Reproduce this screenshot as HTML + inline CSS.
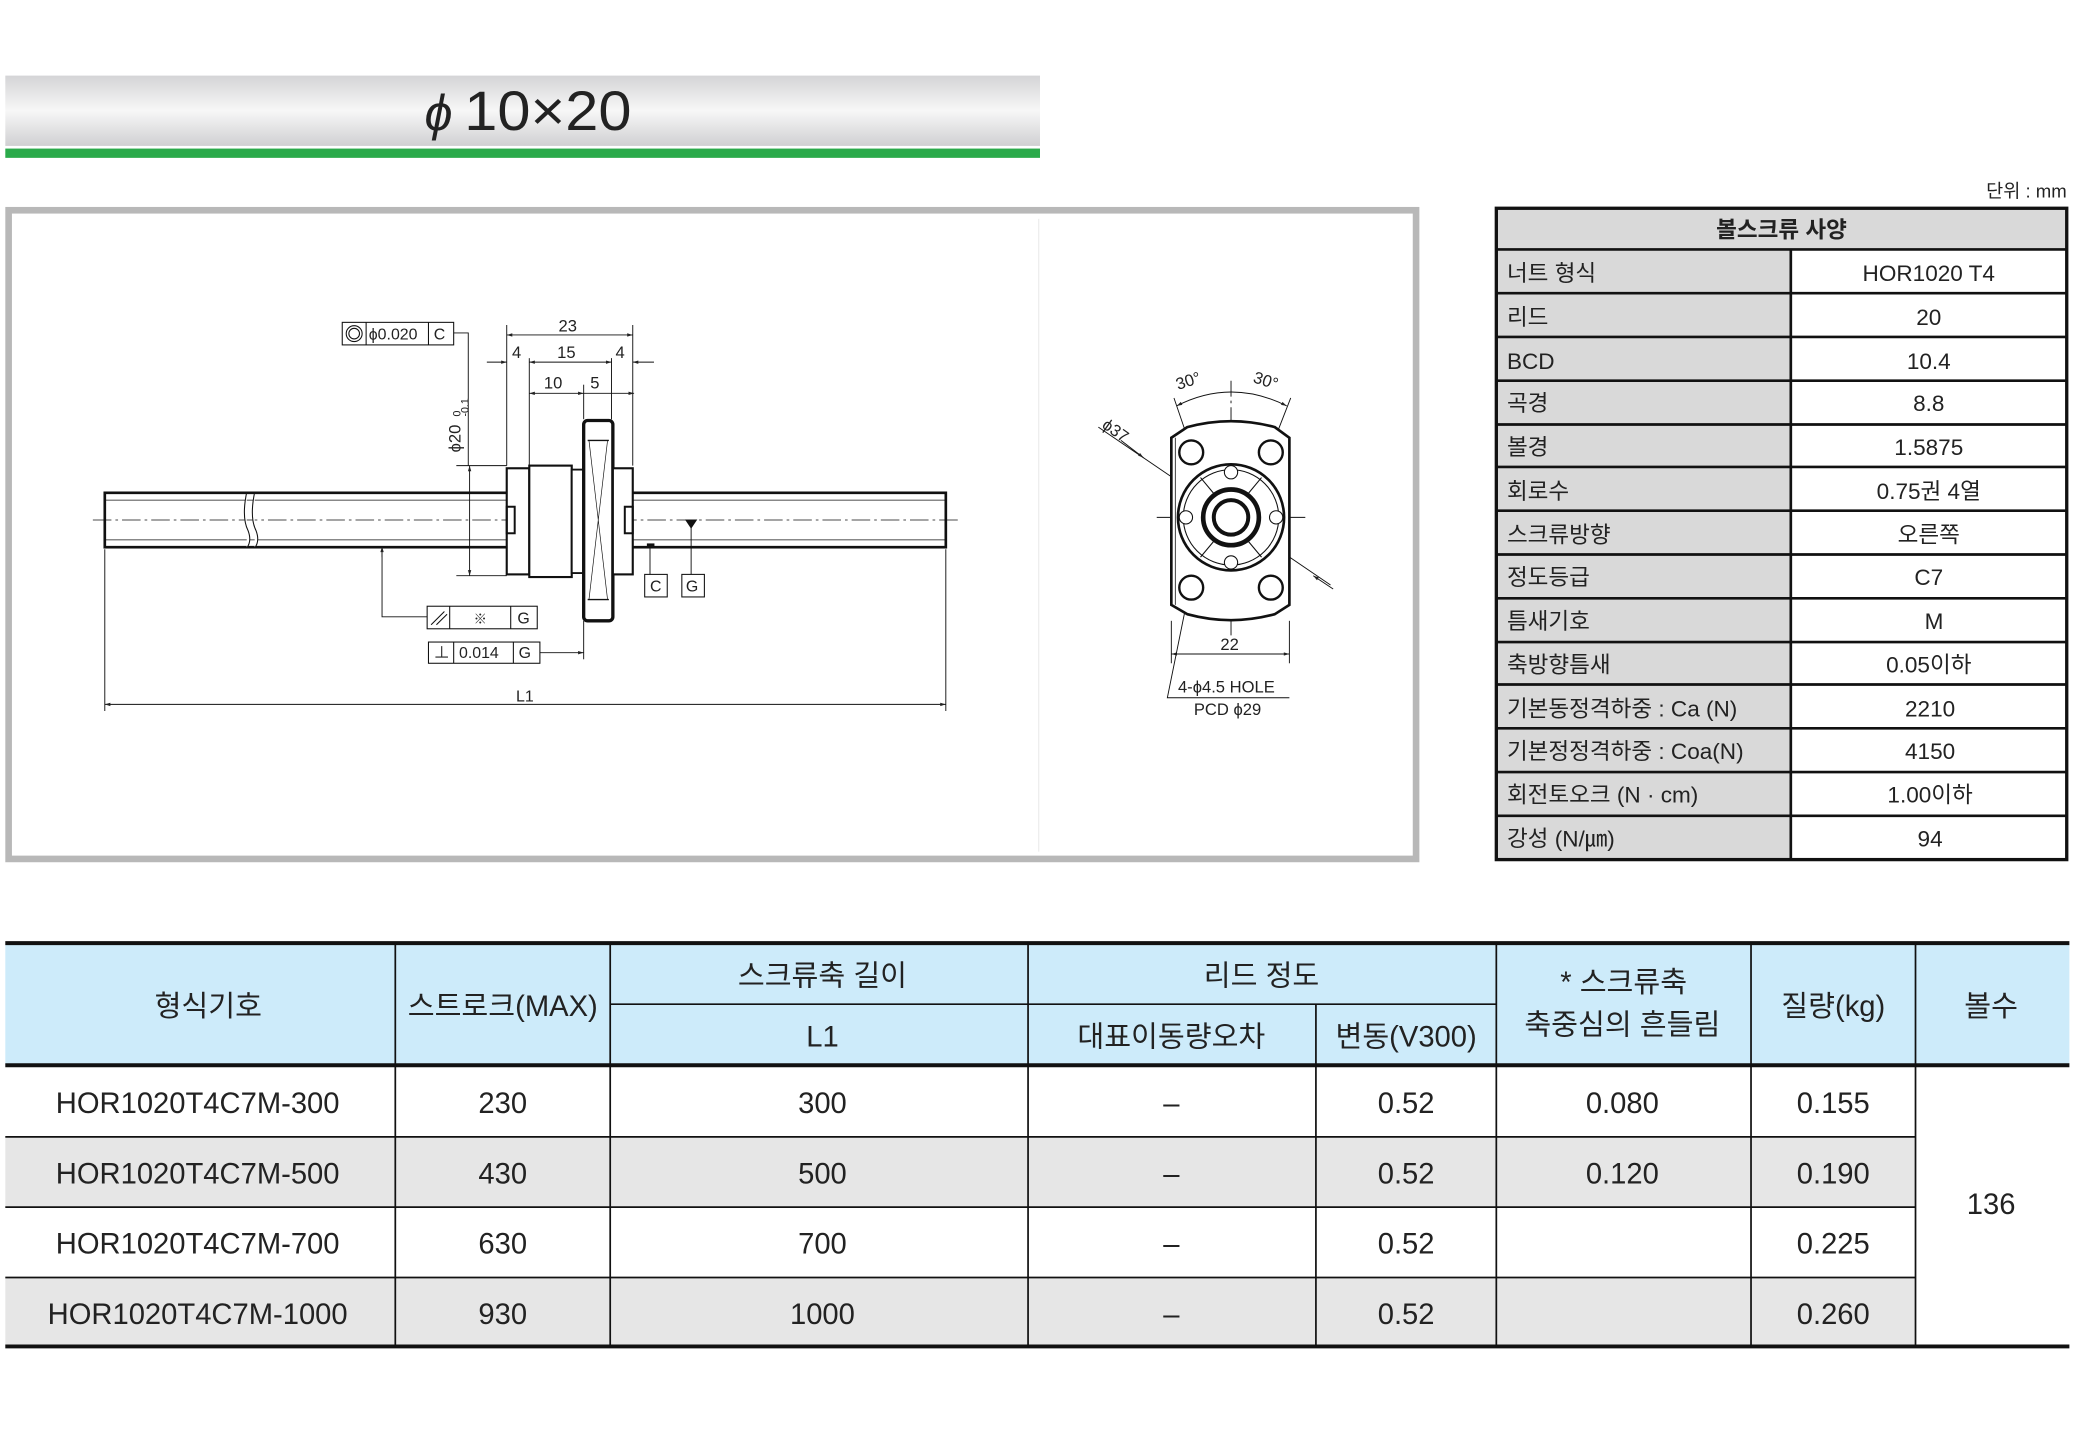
<!DOCTYPE html>
<html><head><meta charset="utf-8"><style>
html,body{margin:0;padding:0;background:#fff;}
svg{display:block;}
text{font-family:"Liberation Sans","Noto Sans CJK KR",sans-serif;fill:#222;}
</style></head><body>
<svg width="2080" height="1432" viewBox="0 0 1568 1079.5" xmlns="http://www.w3.org/2000/svg">
<defs>
<linearGradient id="g1" x1="0" y1="0" x2="0" y2="1">
<stop offset="0" stop-color="#d4d4d6"/><stop offset="0.5" stop-color="#f7f7f7"/><stop offset="1" stop-color="#d0d0d2"/>
</linearGradient>
<marker id="ar" viewBox="0 0 10 10" refX="10" refY="5" markerWidth="8" markerHeight="6" orient="auto-start-reverse"><path d="M0,2 L10,5 L0,8z" fill="#222"/></marker>
</defs>
<!-- title -->
<rect x="4" y="57" width="780" height="53" fill="url(#g1)"/>
<rect x="4" y="112" width="780" height="7" fill="#2aaa4a"/>
<text x="320" y="98" font-size="38" font-style="italic" font-family="Liberation Serif">ϕ</text>
<text x="350" y="98" font-size="42" letter-spacing="0" textLength="126" lengthAdjust="spacingAndGlyphs">10×20</text>
<!-- drawing box -->
<rect x="6.5" y="158.5" width="1061" height="489" fill="#fff" stroke="#b8b8b8" stroke-width="5"/>
<line x1="783" y1="165" x2="783" y2="642" stroke="#eee" stroke-width="1"/>
<g stroke="#111" fill="none" stroke-width="1">
<rect x="79" y="371.5" width="634" height="41" stroke-width="2"/>
<line x1="79" y1="377" x2="713" y2="377" stroke-width="0.6"/>
<line x1="79" y1="407" x2="713" y2="407" stroke-width="0.6"/>
<line x1="70" y1="392" x2="725" y2="392" stroke-dasharray="14,3,2,3" stroke-width="0.6"/>
<path d="M186,371 Q182,390 187,400 Q190,408 186,413 M192,371 Q188,390 193,400 Q196,408 192,413" stroke-width="0.8" fill="#fff"/>
<rect x="382" y="353" width="17" height="80" fill="#fff" stroke-width="1.6"/>
<rect x="399" y="351" width="32" height="84" fill="#fff" stroke-width="1.6"/>
<rect x="431" y="354" width="9" height="78" fill="#fff" stroke-width="1.4"/>
<rect x="440" y="317" width="22" height="151" rx="3" fill="#fff" stroke-width="2.5"/>
<line x1="443" y1="332" x2="459" y2="332"/><line x1="443" y1="452" x2="459" y2="452"/>
<path d="M444,332 L458,452 M458,332 L444,452" stroke-width="0.5"/>
<rect x="462" y="353" width="15" height="80" fill="#fff" stroke-width="1.6"/>
<rect x="382" y="382" width="6" height="20" stroke-width="1.5"/>
<rect x="471" y="382" width="6" height="20" stroke-width="1.5"/>
<g stroke-width="0.7">
<line x1="382" y1="245" x2="382" y2="351"/><line x1="399" y1="270" x2="399" y2="351"/>
<line x1="440" y1="290" x2="440" y2="316"/><line x1="461" y1="270" x2="461" y2="316"/>
<line x1="477" y1="245" x2="477" y2="351"/>
<line x1="382" y1="252.5" x2="477" y2="252.5" marker-start="url(#ar)" marker-end="url(#ar)"/>
<line x1="367" y1="273" x2="382" y2="273" marker-end="url(#ar)"/>
<line x1="399" y1="273" x2="461" y2="273" marker-start="url(#ar)" marker-end="url(#ar)"/>
<line x1="477" y1="273" x2="493" y2="273" marker-start="url(#ar)"/>
<line x1="399" y1="296.5" x2="440" y2="296.5" marker-start="url(#ar)" marker-end="url(#ar)"/>
<line x1="440" y1="296.5" x2="478" y2="296.5" marker-end="url(#ar)"/>
<line x1="344" y1="351" x2="382" y2="351"/><line x1="344" y1="434" x2="382" y2="434"/>
<line x1="354" y1="351" x2="354" y2="434" marker-start="url(#ar)" marker-end="url(#ar)"/>
<polyline points="342,251 353,251 353,351"/>
<line x1="79" y1="414" x2="79" y2="536"/><line x1="713" y1="414" x2="713" y2="536"/>
<line x1="79" y1="531" x2="713" y2="531" marker-start="url(#ar)" marker-end="url(#ar)"/>
<polyline points="322,465 288,465 288,412" /><line x1="288" y1="420" x2="288" y2="412" marker-end="url(#ar)"/>
<line x1="407" y1="492" x2="440" y2="492" marker-end="url(#ar)"/><line x1="440" y1="468" x2="440" y2="497"/>
<line x1="490" y1="412" x2="490" y2="433"/><rect x="488" y="410" width="5" height="3" fill="#111"/>
<line x1="521" y1="392" x2="521" y2="433"/><path d="M517,392 L525,392 L521,398z" fill="#111"/>
</g>
<g stroke-width="0.8" fill="#fff">
<rect x="258" y="243" width="84" height="17"/><line x1="276" y1="243" x2="276" y2="260"/><line x1="323" y1="243" x2="323" y2="260"/>
<circle cx="267" cy="251.5" r="6"/><circle cx="267" cy="251.5" r="4"/>
<rect x="486" y="433" width="17" height="17"/><rect x="514" y="433" width="17" height="17"/>
<rect x="322" y="457" width="83" height="17"/><line x1="339" y1="457" x2="339" y2="474"/><line x1="385" y1="457" x2="385" y2="474"/>
<rect x="323" y="484" width="84" height="16"/><line x1="342" y1="484" x2="342" y2="500"/><line x1="387" y1="484" x2="387" y2="500"/>
</g>
<path d="M325,471 L335,461 M329,471 L337,463" stroke-width="0.8"/>
<g stroke-width="0.7">
<line x1="928" y1="287" x2="928" y2="480" stroke-dasharray="12,3,2,3"/>
<line x1="872" y1="390" x2="985" y2="390" stroke-dasharray="12,3,2,3"/>
<path d="M899,341 L885,300 M957,341 L973,300"/>
<path d="M887,306 Q928,285 970,306" marker-start="url(#ar)" marker-end="url(#ar)"/>
<line x1="828" y1="322" x2="1003" y2="441"/>
<line x1="845" y1="332" x2="862" y2="345" marker-end="url(#ar)"/>
<line x1="1005" y1="444" x2="990" y2="434" marker-end="url(#ar)"/>
<line x1="883" y1="468" x2="883" y2="500"/><line x1="972" y1="468" x2="972" y2="500"/>
<line x1="883" y1="493" x2="972" y2="493" marker-start="url(#ar)" marker-end="url(#ar)"/>
<polyline points="895,452 880,526 972,526"/>
</g>
<path d="M883,330 L895,322 Q928,313 961,322 L972,330 L972,456 L961,463 Q928,472 895,463 L883,456 Z" fill="#fff" stroke-width="2"/>
<line x1="886" y1="330" x2="886" y2="456" stroke-width="0.6"/>
<g stroke-width="1.8" fill="#fff">
<circle cx="898" cy="341" r="9"/><circle cx="958" cy="341" r="9"/><circle cx="898" cy="443" r="9"/><circle cx="958" cy="443" r="9"/>
<circle cx="928" cy="390" r="40" stroke-width="2"/>
</g>
<circle cx="928" cy="390" r="36" stroke-width="0.8"/>
<circle cx="928" cy="390" r="21" stroke-width="3.5"/>
<circle cx="928" cy="390" r="13" stroke-width="3"/>
<g stroke-width="0.8" fill="#fff"><circle cx="928" cy="356" r="5"/><circle cx="928" cy="424" r="5"/><circle cx="894" cy="390" r="5"/><circle cx="962" cy="390" r="5"/></g>
<path d="M905,360 L915,372 M951,360 L941,372 M905,420 L915,408 M951,420 L941,408" stroke-width="0.8"/>
</g>
<g font-size="12.5">
<text x="421" y="250">23</text><text x="386" y="270">4</text><text x="420" y="270">15</text><text x="464" y="270">4</text>
<text x="410" y="293">10</text><text x="445" y="293">5</text>
<text x="278" y="256" font-size="12">ϕ0.020</text><text x="327" y="256" font-size="12">C</text>
<text x="490" y="446" font-size="12">C</text><text x="517" y="446" font-size="12">G</text>
<text x="357" y="470" font-size="10">※</text><text x="390" y="470" font-size="12">G</text>
<text x="327" y="496" font-size="12" fill="#888">⊥</text><text x="346" y="496" font-size="12">0.014</text><text x="391" y="496" font-size="12">G</text>
<text x="389" y="529" font-size="12">L1</text>
<text transform="translate(347,341) rotate(-90)">ϕ20</text>
<text transform="translate(347,314) rotate(-90)" font-size="8">0</text>
<text transform="translate(353,314) rotate(-90)" font-size="8">-0.1</text>
<text transform="translate(888,294) rotate(-18)">30°</text>
<text transform="translate(944,288) rotate(18)">30°</text>
<text transform="translate(830,322) rotate(35)">ϕ37</text>
<text x="920" y="490">22</text>
<text x="888" y="522">4-ϕ4.5 HOLE</text>
<text x="900" y="539">PCD ϕ29</text>
</g>
<text x="1558" y="149" font-size="14" text-anchor="end">단위 : mm</text>
<rect x="1128" y="157" width="430" height="490" fill="#fff"/>
<rect x="1128" y="157" width="430" height="31" fill="#d9d9d9"/>
<rect x="1128" y="188" width="222" height="459" fill="#d9d9d9"/>
<g stroke="#111" stroke-width="2">
<rect x="1128" y="157" width="430" height="491" fill="none" stroke-width="2.5"/>
<line x1="1128" y1="188" x2="1558" y2="188"/>
<line x1="1350" y1="188" x2="1350" y2="648"/>
<line x1="1128" y1="221" x2="1558" y2="221"/><line x1="1128" y1="254" x2="1558" y2="254"/>
<line x1="1128" y1="287" x2="1558" y2="287"/><line x1="1128" y1="320" x2="1558" y2="320"/>
<line x1="1128" y1="352" x2="1558" y2="352"/><line x1="1128" y1="385" x2="1558" y2="385"/>
<line x1="1128" y1="418" x2="1558" y2="418"/><line x1="1128" y1="451" x2="1558" y2="451"/>
<line x1="1128" y1="484" x2="1558" y2="484"/><line x1="1128" y1="516" x2="1558" y2="516"/>
<line x1="1128" y1="549" x2="1558" y2="549"/><line x1="1128" y1="582" x2="1558" y2="582"/>
<line x1="1128" y1="615" x2="1558" y2="615"/>
</g>
<g font-size="17">
<text x="1343" y="179" text-anchor="middle" font-weight="bold">볼스크류 사양</text>
<text x="1136" y="212">너트 형식</text><text x="1136" y="245">리드</text><text x="1136" y="278">BCD</text>
<text x="1136" y="310">곡경</text><text x="1136" y="343">볼경</text><text x="1136" y="376">회로수</text>
<text x="1136" y="409">스크류방향</text><text x="1136" y="441">정도등급</text><text x="1136" y="474">틈새기호</text>
<text x="1136" y="507">축방향틈새</text><text x="1136" y="540">기본동정격하중 : Ca (N)</text>
<text x="1136" y="572">기본정정격하중 : Coa(N)</text><text x="1136" y="605">회전토오크 (N · cm)</text>
<text x="1136" y="638">강성 (N/㎛)</text>
<g text-anchor="middle">
<text x="1454" y="212">HOR1020 T4</text><text x="1454" y="245">20</text><text x="1454" y="278">10.4</text>
<text x="1454" y="310">8.8</text><text x="1454" y="343">1.5875</text><text x="1454" y="376">0.75권 4열</text>
<text x="1454" y="409">오른쪽</text><text x="1454" y="441">C7</text><text x="1458" y="474">M</text>
<text x="1454" y="507">0.05이하</text><text x="1455" y="540">2210</text><text x="1455" y="572">4150</text>
<text x="1455" y="605">1.00이하</text><text x="1455" y="638">94</text>
</g></g>
<rect x="4" y="712" width="1556" height="91" fill="#cdebfa"/>
<rect x="4" y="857" width="1440" height="53" fill="#e6e6e6"/>
<rect x="4" y="963" width="1440" height="52" fill="#e6e6e6"/>
<g stroke="#111" stroke-width="1.3">
<line x1="4" y1="711" x2="1560" y2="711" stroke-width="3"/>
<line x1="4" y1="803" x2="1560" y2="803" stroke-width="3"/>
<line x1="4" y1="1015" x2="1560" y2="1015" stroke-width="3"/>
<line x1="460" y1="757" x2="1128" y2="757"/>
<line x1="4" y1="857" x2="1444" y2="857"/><line x1="4" y1="910" x2="1444" y2="910"/><line x1="4" y1="963" x2="1444" y2="963"/>
<line x1="298" y1="711" x2="298" y2="1015"/><line x1="460" y1="711" x2="460" y2="1015"/>
<line x1="775" y1="711" x2="775" y2="1015"/><line x1="992" y1="757" x2="992" y2="1015"/>
<line x1="1128" y1="711" x2="1128" y2="1015"/><line x1="1320" y1="711" x2="1320" y2="1015"/>
<line x1="1444" y1="711" x2="1444" y2="1015"/>
</g>
<g font-size="22" text-anchor="middle">
<text x="157" y="766">형식기호</text><text x="379" y="766">스트로크(MAX)</text>
<text x="620" y="743">스크류축 길이</text><text x="620" y="789">L1</text>
<text x="951" y="743">리드 정도</text><text x="883" y="789">대표이동량오차</text><text x="1060" y="789">변동(V300)</text>
<text x="1224" y="748">* 스크류축</text><text x="1223" y="780">축중심의 흔들림</text>
<text x="1382" y="766">질량(kg)</text><text x="1501" y="766">볼수</text>
<text x="149" y="839">HOR1020T4C7M-300</text><text x="379" y="839">230</text><text x="620" y="839">300</text><text x="883" y="839">–</text><text x="1060" y="839">0.52</text><text x="1223" y="839">0.080</text><text x="1382" y="839">0.155</text>
<text x="149" y="892">HOR1020T4C7M-500</text><text x="379" y="892">430</text><text x="620" y="892">500</text><text x="883" y="892">–</text><text x="1060" y="892">0.52</text><text x="1223" y="892">0.120</text><text x="1382" y="892">0.190</text>
<text x="149" y="945">HOR1020T4C7M-700</text><text x="379" y="945">630</text><text x="620" y="945">700</text><text x="883" y="945">–</text><text x="1060" y="945">0.52</text><text x="1382" y="945">0.225</text>
<text x="149" y="998">HOR1020T4C7M-1000</text><text x="379" y="998">930</text><text x="620" y="998">1000</text><text x="883" y="998">–</text><text x="1060" y="998">0.52</text><text x="1382" y="998">0.260</text>
<text x="1501" y="915">136</text>
</g>
</svg>
</body></html>
